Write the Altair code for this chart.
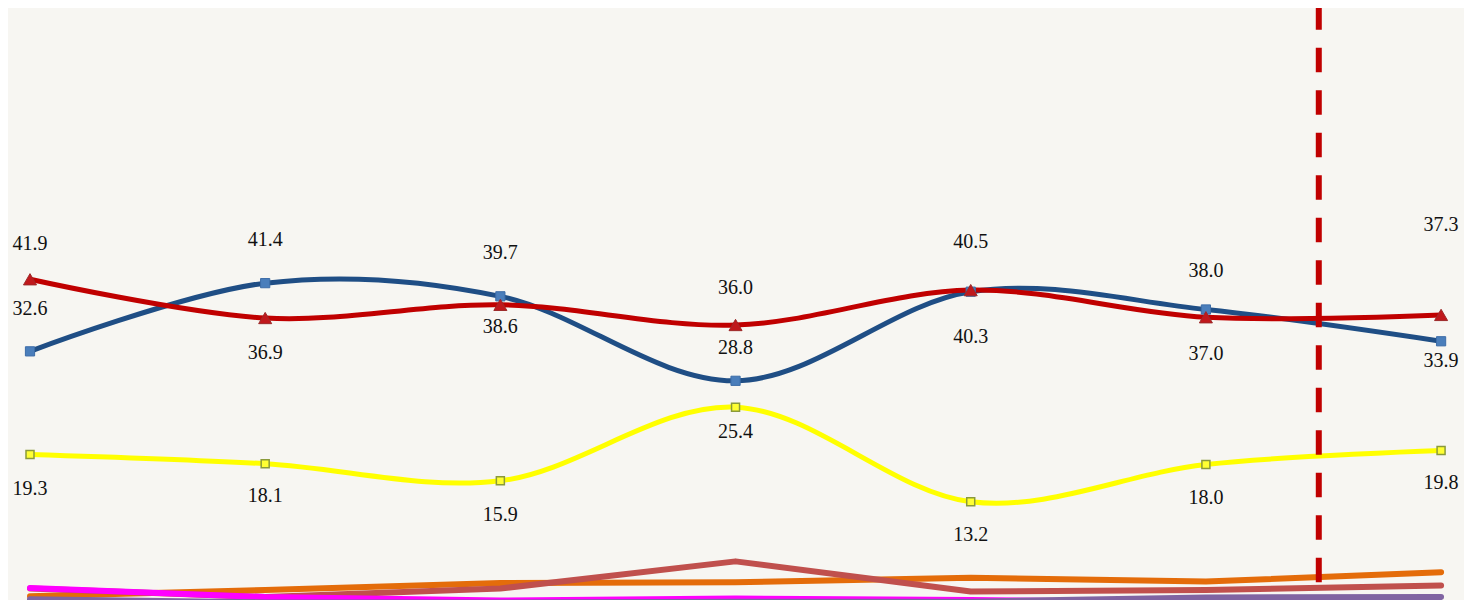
import altair as alt
import pandas as pd

# ---- data ----
x_idx = [0, 1, 2, 3, 4, 5, 6]
blue = [32.6, 41.4, 39.7, 28.8, 40.3, 38.0, 33.9]
red = [41.9, 36.9, 38.6, 36.0, 40.5, 37.0, 37.3]
yellow = [19.3, 18.1, 15.9, 25.4, 13.2, 18.0, 19.8]
orange = [1.0, 1.8, 2.7, 2.8, 3.4, 2.9, 4.1]
brown = [2.0, 0.9, 2.0, 5.5, 1.6, 1.8, 2.4]
magenta = [2.05, 0.9, 0.45, 0.7, 0.5, 0.2, 0.1]
purple = [0.6, 0.2, 0.2, 0.3, 0.3, 0.85, 0.9]

# label offsets (pixels, + = below the point)
blue_dy = [-42, -43, -43, -33, 45, -38, 20]
red_dy = [-35, 35, 22, -37, -48, 37, -90]
yellow_dy = [35, 32, 34, 25, 33, 34, 32]

marker_x = 5.48
marker_top = 77.25
marker_bottom = 2.75

W, H = 1456, 592
X_DOM = [-0.09355, 6.09745]
Y_DOM = [0.516, 76.903]
K = (Y_DOM[1] - Y_DOM[0]) / H  # value units per pixel

def frame(name, vals, dy=None):
    d = pd.DataFrame({"x": x_idx, "v": vals, "s": name})
    d["dy"] = dy if dy is not None else [0] * len(vals)
    d["lbl"] = [f"{v:.1f}" for v in vals]
    return d

xs = alt.Scale(domain=X_DOM, nice=False, zero=False)
ys = alt.Scale(domain=Y_DOM, nice=False, zero=False)
X = alt.X("x:Q", scale=xs, axis=None)
Y = alt.Y("v:Q", scale=ys, axis=None)


def line(d, color, width, interp="linear"):
    return alt.Chart(d).mark_line(
        color=color, strokeWidth=width, interpolate=interp, clip=True,
        strokeCap="round", strokeJoin="round"
    ).encode(x=X, y=Y)


def pts(d, shape, fill, stroke, size, sw):
    return alt.Chart(d).mark_point(
        shape=shape, filled=True, fill=fill, stroke=stroke, strokeWidth=sw,
        size=size, opacity=1, clip=True
    ).encode(x=X, y=Y)


def labels(d):
    return alt.Chart(d).transform_calculate(
        ly=f"datum.v - datum.dy * {K}"
    ).mark_text(
        font="Liberation Serif", fontSize=20, color="#111111",
        baseline="middle", align="center", clip=True
    ).encode(x=X, y=alt.Y("ly:Q", scale=ys, axis=None), text="lbl:N")


d_blue = frame("blue", blue, blue_dy)
d_red = frame("red", red, red_dy)
d_yel = frame("yellow", yellow, yellow_dy)

rule_df = pd.DataFrame({"x": [marker_x], "v": [marker_top], "v2": [marker_bottom]})
rule = alt.Chart(rule_df).mark_rule(
    color="#c00000", strokeWidth=6, strokeDash=[24.5, 18], clip=True
).encode(x=X, y=Y, y2="v2:Q")

chart = alt.layer(
    line(frame("orange", orange), "#e46c0a", 6),
    line(frame("brown", brown), "#c0504d", 6),
    line(frame("magenta", magenta), "#ff00ff", 6),
    line(frame("purple", purple), "#8064a2", 6),
    line(d_yel, "#ffff00", 5, "cardinal"),
    line(d_blue, "#1f4e85", 5, "cardinal"),
    line(d_red, "#c00000", 5, "cardinal"),
    pts(d_yel, "square", "#ffff33", "#8a9a3a", 64, 1.5),
    pts(d_blue, "square", "#4a7ebb", "#3d6da8", 85, 1),
    pts(d_red, "triangle-up", "#c0181c", "#9c2a2a", 170, 1),
    rule,
    labels(d_blue),
    labels(d_red),
    labels(d_yel),
).properties(
    width=W, height=H, background="#f7f6f2", padding=0,
    autosize=alt.AutoSizeParams(type="none"),
).configure_view(stroke=None)

chart.save("out.html", embed_options={"renderer": "svg", "actions": False})
